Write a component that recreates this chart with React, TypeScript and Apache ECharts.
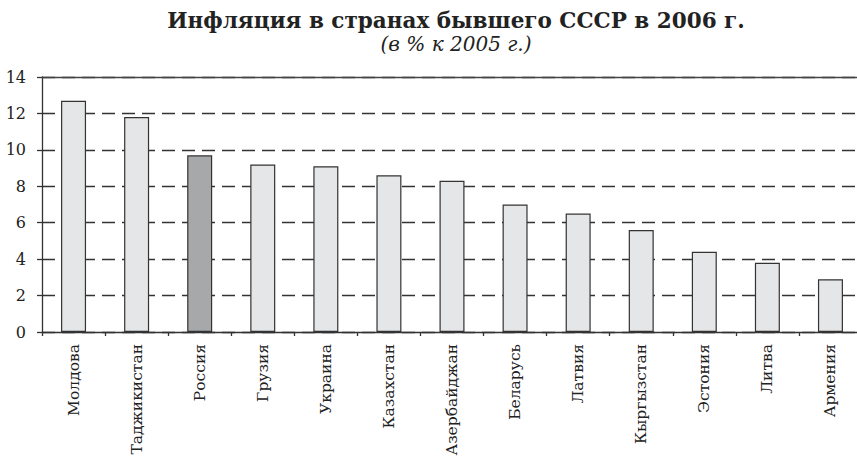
import React, { useEffect, useRef } from "react";
import * as echarts from "echarts";

const categories = [
  "Молдова",
  "Таджикистан",
  "Россия",
  "Грузия",
  "Украина",
  "Казахстан",
  "Азербайджан",
  "Беларусь",
  "Латвия",
  "Кыргызстан",
  "Эстония",
  "Литва",
  "Армения",
];
const inflation = [12.7, 11.8, 9.7, 9.2, 9.1, 8.6, 8.3, 7.0, 6.5, 5.6, 4.4, 3.8, 2.9];
const highlighted = "Россия";
const titleText = "Инфляция в странах бывшего СССР в 2006 г.";
const subtitleText = "(в % к 2005 г.)";

const FONT = "DejaVu Serif";

export default function App() {
  const ref = useRef<HTMLDivElement>(null);
  useEffect(() => {
    if (!ref.current) return;
    const chart = echarts.init(ref.current, null, { renderer: "svg" });
    chart.setOption({
      animation: false,
      backgroundColor: "#ffffff",
      title: {
        text: titleText,
        subtext: subtitleText,
        left: 451,
        textAlign: "center",
        top: 4,
        itemGap: 3,
        textStyle: { fontFamily: FONT, fontSize: 21.5, fontWeight: "bold", color: "#222" },
        subtextStyle: { fontFamily: FONT, fontSize: 20, fontStyle: "italic", color: "#222" },
      },
      grid: {
        left: 42,
        top: 77,
        width: 820,
        bottom: 127,
        containLabel: false,
        outerBoundsMode: "none",
      },
      xAxis: [
        {
          type: "category",
          data: categories,
          axisLine: { lineStyle: { color: "#333", width: 1.3 } },
          axisTick: { show: true, length: 4, lineStyle: { color: "#333", width: 1.3 }, alignWithLabel: false },
          axisLabel: {
            rotate: 90,
            margin: 12,
            fontFamily: FONT,
            fontSize: 15.5,
            color: "#222",
            interval: 0,
          },
        },
        {
          type: "category",
          position: "top",
          data: categories,
          axisLine: { show: true, lineStyle: { color: "#444", width: 1.3 } },
          axisTick: { show: false },
          axisLabel: { show: false },
        },
      ],
      yAxis: {
        type: "value",
        min: 0,
        max: 14,
        interval: 2,
        axisLine: { show: true, lineStyle: { color: "#333", width: 1.3 } },
        axisTick: { show: true, length: 5, lineStyle: { color: "#333", width: 1.3 } },
        axisLabel: { fontFamily: FONT, fontSize: 16, color: "#222", margin: 16 },
        splitLine: { show: true, lineStyle: { color: "#333", width: 1.3, type: [13, 7] } },
      },
      series: [
        {
          type: "bar",
          barWidth: 25,
          data: categories.map((c, i) => ({
            value: inflation[i],
            itemStyle: {
              color: c === highlighted ? "#a7a8aa" : "#e5e6e7",
              borderColor: "#333",
              borderWidth: 1.2,
            },
          })),
        },
      ],
    });
    return () => chart.dispose();
  }, []);
  return <div ref={ref} style={{ width: 857, height: 459, position: "absolute", left: 0, top: 0 }} />;
}
